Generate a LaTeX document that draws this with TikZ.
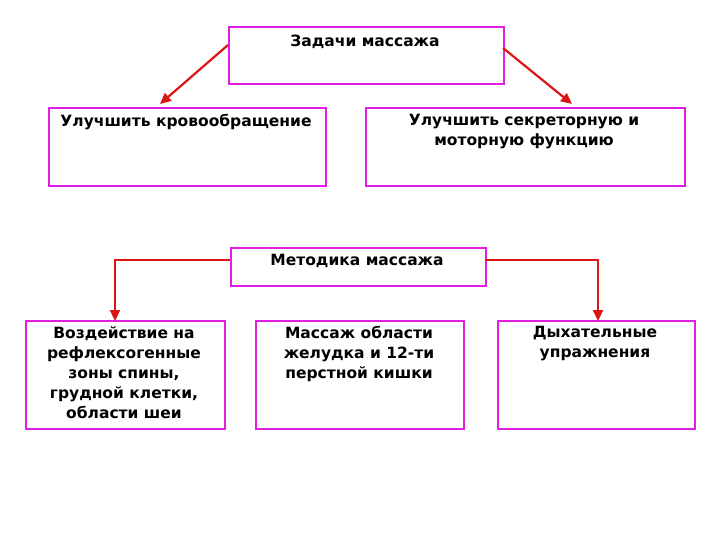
\documentclass[tikz,border=0pt]{standalone}
\usepackage{fontspec}
\setmainfont{DejaVu Sans}
\usetikzlibrary{arrows.meta}
\begin{document}
\begin{tikzpicture}[x=1pt,y=-1pt,
  box/.style={draw={rgb,255:red,225;green,30;blue,225},line width=2.2pt,anchor=north west,inner sep=0pt},
  lbl/.style={anchor=north,align=center,font=\fontsize{15.5}{20}\selectfont\bfseries,inner sep=0pt},
  con/.style={draw={rgb,255:red,220;green,20;blue,20},line width=2.2pt,-{Triangle[length=11pt,width=10pt]}}]
\useasboundingbox (0,0) rectangle (720,540);
\node[box,minimum width=275pt,minimum height=57pt] (b1) at (228,26) {};
\node[lbl] at (365,35) {Задачи массажа};
\node[box,minimum width=277pt,minimum height=78pt] (b2) at (48,107) {};
\node[lbl] at (186,114) {Улучшить кровообращение};
\node[box,minimum width=319pt,minimum height=78pt] (b3) at (365,107) {};
\node[lbl] at (524,114) {Улучшить секреторную и\\моторную функцию};
\node[box,minimum width=255pt,minimum height=38pt] (b4) at (230,247) {};
\node[lbl] at (357,254) {Методика массажа};
\node[box,minimum width=199pt,minimum height=108pt] (b5) at (25,320) {};
\node[lbl] at (124,326) {Воздействие на\\рефлексогенные\\зоны спины,\\грудной клетки,\\области шеи};
\node[box,minimum width=208pt,minimum height=108pt] (b6) at (255,320) {};
\node[lbl] at (359,326) {Массаж области\\желудка и 12-ти\\перстной кишки};
\node[box,minimum width=197pt,minimum height=108pt] (b7) at (497,320) {};
\node[lbl] at (595,326) {Дыхательные\\упражнения};
\coordinate (a1) at (228,45);
\coordinate (a2) at (503,48);
\draw[con] (a1) -- (160,104);
\draw[con] (a2) -- (572,104);
\coordinate (m1) at (230,260);
\coordinate (m2) at (485,260);
\draw[con] (m1) -- (115,260) -- (115,321);
\draw[con] (m2) -- (598,260) -- (598,321);
\end{tikzpicture}
\end{document}
